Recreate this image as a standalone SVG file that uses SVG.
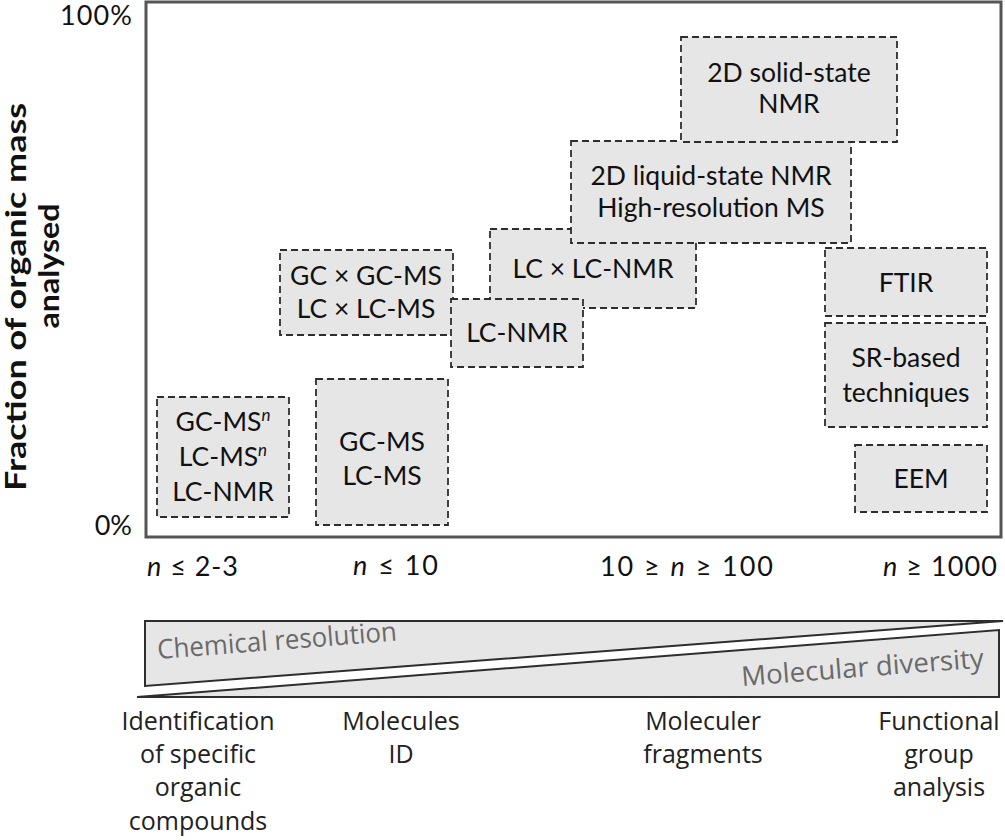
<svg xmlns="http://www.w3.org/2000/svg" width="1005" height="840" viewBox="0 0 1005 840">
<style>
.box{fill:#e6e6e6;stroke:#2e2e2e;stroke-width:1.8;stroke-dasharray:7 4}
.bt{font-family:Lato,"Open Sans",sans-serif;font-size:26.5px;fill:#111;text-anchor:middle}
.ax{font-family:Lato,"Open Sans",sans-serif;font-size:27px;fill:#111}
.yl{font-family:Lato,"Open Sans",sans-serif;font-size:28px;font-weight:bold;fill:#111;text-anchor:middle}
.lab{font-family:"Open Sans",Lato,sans-serif;font-size:25px;fill:#222;text-anchor:middle}
.wt{font-family:"Open Sans",Lato,sans-serif;font-size:27px;fill:#6a6a6a}
.wedge{fill:#e6e6e6;stroke:#2e2e2e;stroke-width:2;stroke-linejoin:miter}
</style>
<rect width="1005" height="840" fill="#fff"/>

<g id="frame">
<rect x="146" y="2" width="855" height="535" fill="#fff" stroke="#555" stroke-width="3"/>
<text class="ax" x="132" y="25" text-anchor="end" textLength="72">100%</text>
<text class="ax" x="132" y="535" text-anchor="end">0%</text>
</g>

<g id="y-label">
<text class="yl" transform="translate(26,297) rotate(-90)" textLength="388" lengthAdjust="spacingAndGlyphs">Fraction of organic mass</text>
<text class="yl" transform="translate(59,266) rotate(-90)" textLength="125" lengthAdjust="spacingAndGlyphs">analysed</text>
</g>

<g id="x-ticks">
<text class="ax" x="147" y="576" textLength="91"><tspan font-style="italic">n</tspan> ≤ 2-3</text>
<text class="ax" x="353" y="575" textLength="85"><tspan font-style="italic">n</tspan> ≤ 10</text>
<text class="ax" x="600" y="576" textLength="173">10 ≥  <tspan font-style="italic">n</tspan> ≥ 100</text>
<text class="ax" x="883" y="576" textLength="114"><tspan font-style="italic">n</tspan> ≥ 1000</text>
</g>

<g id="node-gcmsn">
<rect class="box" x="157" y="397" width="132" height="120"/>
<text class="bt" x="223" y="431">GC-MS<tspan font-size="17" font-style="italic" dy="-10">n</tspan></text>
<text class="bt" x="223" y="466">LC-MS<tspan font-size="17" font-style="italic" dy="-10">n</tspan></text>
<text class="bt" x="223" y="501">LC-NMR</text>
</g>

<g id="node-gcms">
<rect class="box" x="316" y="379" width="132" height="146"/>
<text class="bt" x="382" y="451">GC-MS</text>
<text class="bt" x="382" y="485">LC-MS</text>
</g>

<g id="node-gcxgc">
<rect class="box" x="280" y="250" width="173" height="85"/>
<text class="bt" x="366" y="285">GC × GC-MS</text>
<text class="bt" x="366" y="318">LC × LC-MS</text>
</g>

<g id="node-lcxlc-nmr">
<rect class="box" x="490" y="229" width="206" height="79"/>
<text class="bt" x="593" y="278">LC × LC-NMR</text>
</g>

<g id="node-lc-nmr">
<rect class="box" x="451" y="299" width="132" height="68"/>
<text class="bt" x="517" y="342">LC-NMR</text>
</g>

<g id="node-2d-liquid">
<rect class="box" x="571" y="141" width="280" height="102"/>
<text class="bt" x="711" y="185">2D liquid-state NMR</text>
<text class="bt" x="711" y="217">High-resolution MS</text>
</g>

<g id="node-2d-solid">
<rect class="box" x="681" y="37" width="216" height="105"/>
<text class="bt" x="789" y="82">2D solid-state</text>
<text class="bt" x="789" y="113">NMR</text>
</g>

<g id="node-ftir">
<rect class="box" x="825" y="248" width="162" height="68"/>
<text class="bt" x="906" y="292">FTIR</text>
</g>

<g id="node-sr">
<rect class="box" x="825" y="323" width="162" height="104"/>
<text class="bt" x="906" y="367">SR-based</text>
<text class="bt" x="906" y="402">techniques</text>
</g>

<g id="node-eem">
<rect class="box" x="855" y="445" width="132" height="67"/>
<text class="bt" x="921" y="488">EEM</text>
</g>

<g id="wedge">
<polygon class="wedge" points="145,621 1003,621 145,686"/>
<polygon class="wedge" points="137,697 999,697 999,630"/>
<text class="wt" transform="translate(158,659) rotate(-4.4)" textLength="240" lengthAdjust="spacingAndGlyphs">Chemical resolution</text>
<text class="wt" transform="translate(742,686) rotate(-4.4)" textLength="243" lengthAdjust="spacingAndGlyphs">Molecular diversity</text>
</g>

<g id="bottom-labels">
<text class="lab" x="198" y="730">Identification</text>
<text class="lab" x="198" y="763">of specific</text>
<text class="lab" x="198" y="796">organic</text>
<text class="lab" x="198" y="830">compounds</text>
<text class="lab" x="401" y="730">Molecules</text>
<text class="lab" x="401" y="763">ID</text>
<text class="lab" x="703" y="730">Moleculer</text>
<text class="lab" x="703" y="763">fragments</text>
<text class="lab" x="939" y="730">Functional</text>
<text class="lab" x="939" y="763">group</text>
<text class="lab" x="939" y="796">analysis</text>
</g>
</svg>
